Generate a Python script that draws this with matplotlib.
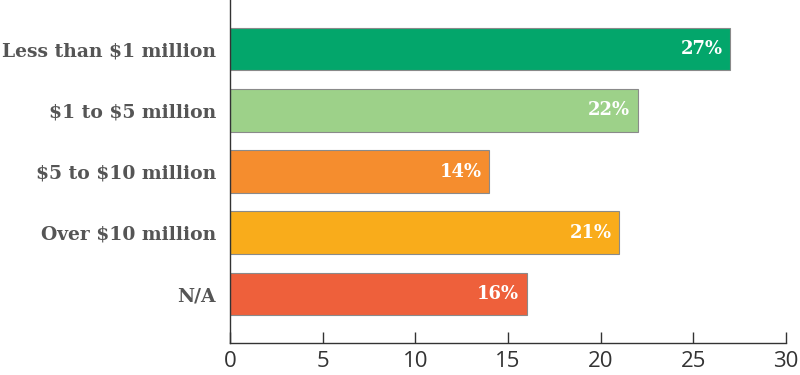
import numpy as np
import matplotlib.pyplot as plt

plt.rcParams["text.parse_math"] = False

categories = ["Less than $1 million", "$1 to $5 million", "$5 to $10 million",
              "Over $10 million", "N/A"]
values = [27, 22, 14, 21, 16]
colors = ["#03A66B", "#9DD189", "#F58D2E", "#F9AC1B", "#EE603B"]
xticks = [0, 5, 10, 15, 20, 25, 30]

fig = plt.figure(figsize=(8, 3.75), dpi=100)
ax = fig.add_axes([0.2875, 0.0853, 0.695, 0.9147])

y = np.arange(len(categories))
ax.barh(y, values, height=0.7, color=colors, edgecolor="#8a8a8a", linewidth=0.8)

for yi, v in zip(y, values):
    ax.text(v - 0.4, yi, f"{v}%", ha="right", va="center", color="white",
            fontsize=13, fontweight="bold", family="DejaVu Serif")

ax.set_ylim(len(categories) - 0.2, -0.8)
ax.set_xlim(0, 30)
ax.set_yticks(y)
ax.set_yticklabels(categories, family="DejaVu Serif", fontweight="bold",
                   fontsize=13.5, color="#555555")
ax.set_xticks(xticks)
ax.set_xticklabels([str(t) for t in xticks], family="Open Sans", fontsize=16,
                   color="#333333")
ax.tick_params(axis="y", length=0, pad=10)
ax.tick_params(axis="x", direction="in", length=8, width=1, color="#333333", pad=6)
for s in ["top", "right"]:
    ax.spines[s].set_visible(False)
for s in ["left", "bottom"]:
    ax.spines[s].set_color("#333333")
    ax.spines[s].set_linewidth(1)

fig.savefig("out.png", dpi=100)
